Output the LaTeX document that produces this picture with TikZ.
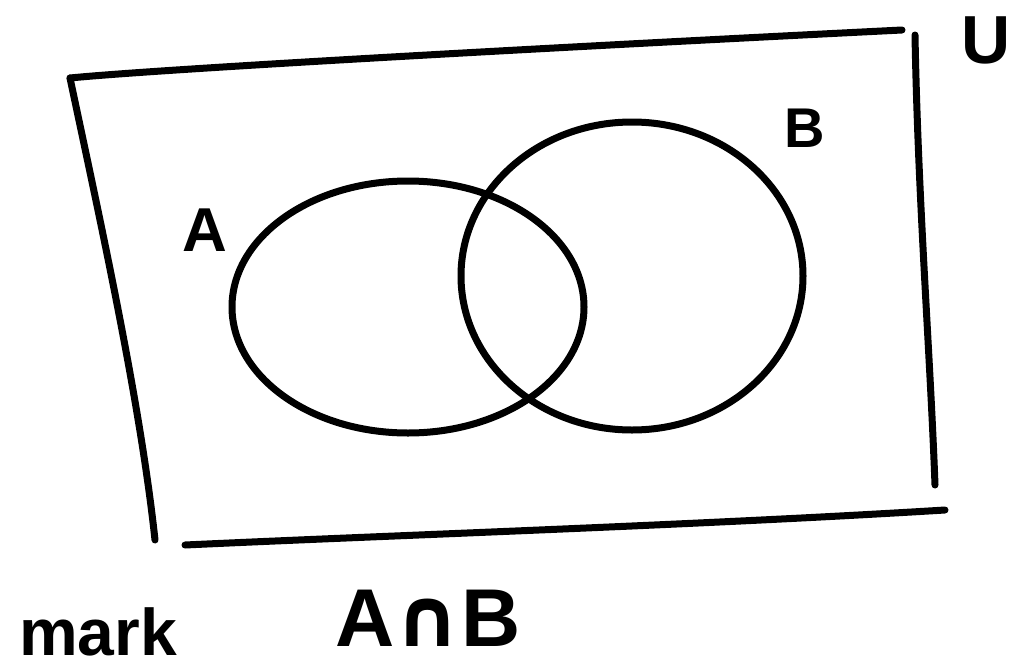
\documentclass[tikz,border=0pt]{standalone}
\usepackage{fontspec}
\setmainfont{Liberation Sans}
\newfontfamily\dvsans{DejaVu Sans}
\begin{document}
\begin{tikzpicture}[x=1pt,y=-1pt,
  stroke/.style={line width=7pt,line cap=round,line join=round},
  lbl/.style={inner sep=0pt,anchor=center}]
\useasboundingbox (0,0) rectangle (1021,670);
% universe box
\draw[stroke] (70,78) .. controls (150,70) and (500,50) .. (902,30);
\draw[stroke] (70,78) .. controls (100,220) and (140,400) .. (155,540);
\draw[stroke] (185,545) .. controls (400,535) and (700,525) .. (945,510);
\draw[stroke] (915,35) .. controls (918,200) and (930,350) .. (935,485);
% sets
\draw[stroke] (408,307) ellipse [x radius=176, y radius=126];
\draw[stroke] (632,276) ellipse [x radius=171, y radius=154];
% labels
\node[lbl,font=\bfseries\fontsize{62}{62}\selectfont] (la) at (205,230) {A};
\node[lbl,font=\bfseries\fontsize{56}{56}\selectfont] (lb) at (805,128) {B};
\node[lbl,font=\bfseries\fontsize{68}{68}\selectfont] (lu) at (986,40) {U};
\node[lbl,font=\bfseries\fontsize{66}{66}\selectfont] (lm) at (98,632) {mark};
\node[lbl,font=\bfseries\fontsize{82}{82}\selectfont] (lab) at (428,618) {A{\dvsans\bfseries ∩}B};
\end{tikzpicture}
\end{document}
